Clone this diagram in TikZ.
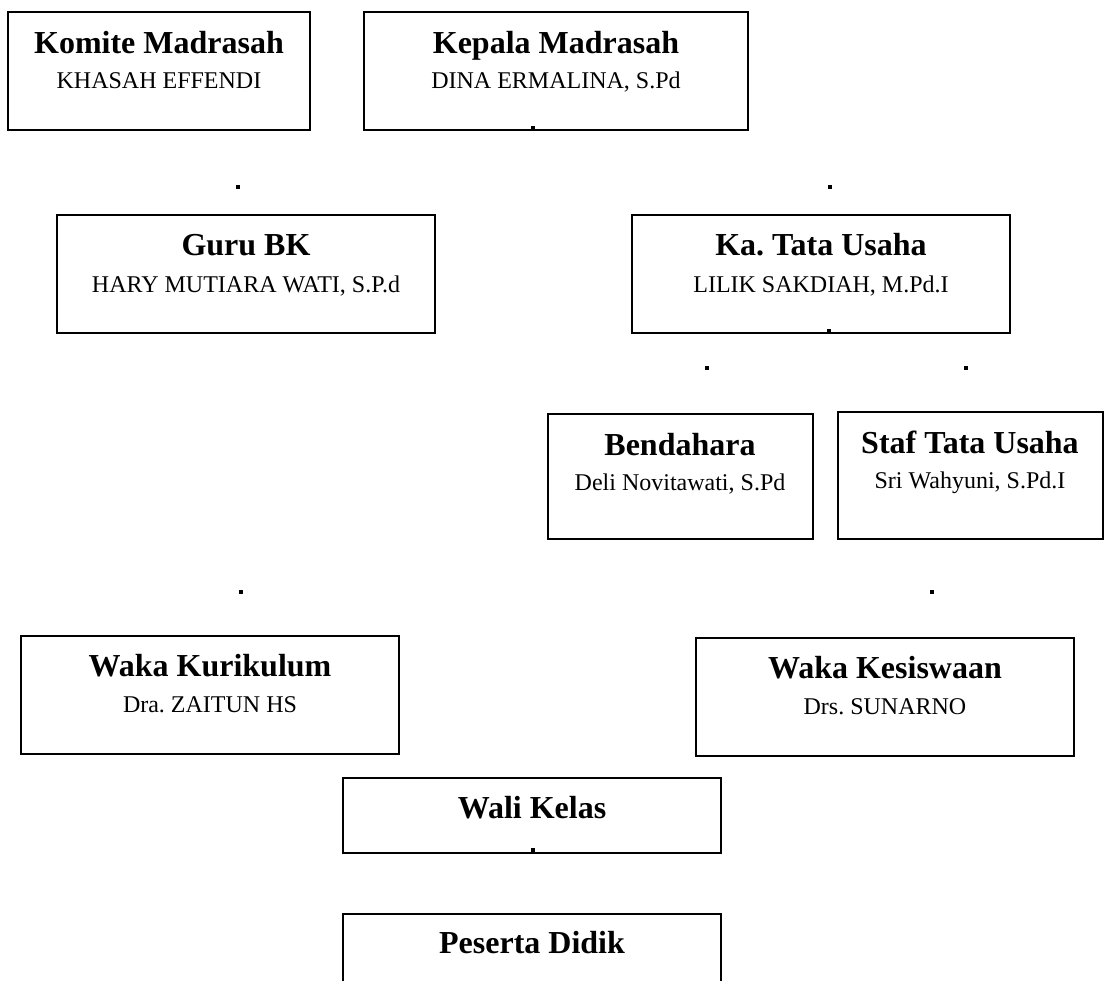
\documentclass[tikz,border=0pt]{standalone}
\usepackage{fontspec}
\setmainfont{Liberation Serif}
\usetikzlibrary{fit}
\frenchspacing
\begin{document}
\frenchspacing
\begin{tikzpicture}[x=0.5pt,y=-0.5pt,
  orgbox/.style={draw,line width=1.2pt,inner sep=0pt},
  ttl/.style={anchor=base,inner sep=0pt,font=\fontsize{16}{19}\selectfont\bfseries\frenchspacing},
  nm/.style={anchor=base,inner sep=0pt,font=\fontsize{12}{14}\selectfont\frenchspacing},
  dotsq/.style={fill,minimum size=2pt,inner sep=0pt,outer sep=0pt}]
\useasboundingbox (0,0) rectangle (1105,981);
% boxes
\node[orgbox,fit={(8,12) (310,130)}] (komite) {};
\node[orgbox,fit={(364,12) (748,130)}] (kepala) {};
\node[orgbox,fit={(57,215) (435,333)}] (gurubk) {};
\node[orgbox,fit={(632,215) (1010,333)}] (katu) {};
\node[orgbox,fit={(548,414) (813,539)}] (bendahara) {};
\node[orgbox,fit={(838,412) (1103,539)}] (staftu) {};
\node[orgbox,fit={(21,636) (399,754)}] (kurikulum) {};
\node[orgbox,fit={(696,638) (1074,756)}] (kesiswaan) {};
\node[orgbox,fit={(343,778) (721,853)}] (walikelas) {};
\node[orgbox,fit={(343,914) (721,1010)}] (peserta) {};
% texts
\node[ttl] (komite-t) at (159,53) {Komite Madrasah};
\node[nm] (komite-n) at (159,88) {KHASAH EFFENDI};
\node[ttl] (kepala-t) at (556,53) {Kepala Madrasah};
\node[nm] (kepala-n) at (556,88) {DINA ERMALINA, S.Pd};
\node[ttl] (gurubk-t) at (246,255) {Guru BK};
\node[nm] (gurubk-n) at (246,292) {HARY MUTIARA WATI, S.P.d};
\node[ttl] (katu-t) at (821,255) {Ka. Tata Usaha};
\node[nm] (katu-n) at (821,292) {LILIK SAKDIAH, M.Pd.I};
\node[ttl] (bendahara-t) at (680,455) {Bendahara};
\node[nm] (bendahara-n) at (680,490) {Deli Novitawati, S.Pd};
\node[ttl] (staftu-t) at (970,453) {Staf Tata Usaha};
\node[nm] (staftu-n) at (970,488) {Sri Wahyuni, S.Pd.I};
\node[ttl] (kurikulum-t) at (210,676) {Waka Kurikulum};
\node[nm] (kurikulum-n) at (210,712) {Dra. ZAITUN HS};
\node[ttl] (kesiswaan-t) at (885,678) {Waka Kesiswaan};
\node[nm] (kesiswaan-n) at (885,714) {Drs. SUNARNO};
\node[ttl] (walikelas-t) at (532,818) {Wali Kelas};
\node[ttl] (peserta-t) at (532,953) {Peserta Didik};
% connector remnants (dots)
\node[dotsq] (d1) at (533,128) {};
\node[dotsq] (d2) at (238,187) {};
\node[dotsq] (d3) at (830,187) {};
\node[dotsq] (d4) at (829,331) {};
\node[dotsq] (d5) at (707,368) {};
\node[dotsq] (d6) at (966,368) {};
\node[dotsq] (d7) at (241,592) {};
\node[dotsq] (d8) at (932,592) {};
\node[dotsq] (d9) at (533,850) {};
\end{tikzpicture}
\end{document}
